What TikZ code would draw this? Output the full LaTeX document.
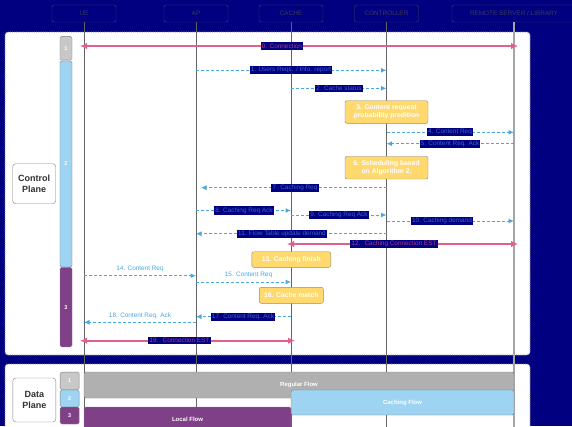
\documentclass[tikz,border=0pt]{standalone}
\usepackage{fontspec}
\setmainfont{Liberation Sans}
\usetikzlibrary{arrows.meta}

\definecolor{navybg}{RGB}{0,0,128}
\definecolor{hdrline}{RGB}{70,70,90}
\definecolor{hdrtext}{RGB}{60,60,90}
\definecolor{lifegray}{RGB}{100,100,100}
\definecolor{remotegray}{RGB}{165,165,165}
\definecolor{msgblue}{RGB}{72,168,224}
\definecolor{msgpink}{RGB}{226,96,140}
\definecolor{labblue}{RGB}{60,100,205}
\definecolor{labpink}{RGB}{175,60,140}
\definecolor{noteyellow}{RGB}{255,217,110}
\definecolor{notebd}{RGB}{140,140,140}
\definecolor{phasegray}{RGB}{200,200,200}
\definecolor{phaseblue}{RGB}{158,211,242}
\definecolor{phasepurple}{RGB}{128,64,135}
\definecolor{phasebd}{RGB}{130,130,130}
\definecolor{flowgray}{RGB}{176,176,176}
\definecolor{darktext}{RGB}{50,50,50}
\definecolor{panelbd}{RGB}{130,130,130}

\begin{document}
\begin{tikzpicture}[x=1pt,y=-1pt,
  font=\fontsize{6.4}{7.5}\selectfont,
  hdr/.style={draw=hdrline, fill=navybg, rounded corners=2pt, minimum height=17pt,
    text=hdrtext, inner sep=0pt},
  life/.style={draw=lifegray, line width=0.8pt},
  remotelife/.style={draw=remotegray, line width=1.6pt},
  panel/.style={draw=panelbd, fill=white, rounded corners=3pt, line width=0.6pt,
    dash pattern=on 1.2pt off 1pt},
  planebox/.style={draw=panelbd, fill=white, rounded corners=3pt, text=darktext,
    font=\bfseries\fontsize{9}{10.5}\selectfont, align=center,
    minimum width=43pt, inner sep=0pt},
  phase/.style={draw=phasebd, rounded corners=1.5pt, text=white, inner sep=0pt,
    font=\bfseries\fontsize{5.5}{6.5}\selectfont},
  flow/.style={draw=phasebd, rounded corners=1.5pt, text=white, inner sep=0pt,
    font=\bfseries\fontsize{6}{7}\selectfont},
  bluemsg/.style={draw=msgblue, line width=1pt, dash pattern=on 3pt off 2pt,
    -{Latex[length=5.5pt,width=5pt]}},
  pinkmsg/.style={draw=msgpink, line width=2.4pt,
    {Latex[length=7pt,width=6.5pt]}-{Latex[length=7pt,width=6.5pt]}},
  lab/.style={fill=navybg, inner xsep=1.2pt, inner ysep=1.2pt, text=labblue},
  plab/.style={lab, text=labpink},
  freelab/.style={text=msgblue, inner sep=0.5pt},
  note/.style={draw=notebd, fill=noteyellow, rounded corners=2pt, text=white,
    font=\bfseries\fontsize{6.8}{8.2}\selectfont, align=center, inner sep=0pt}
]
\useasboundingbox (0,0) rectangle (572,426);
\clip (0,0) rectangle (572,426);
\fill[navybg] (0,0) rectangle (572,426);

% plane panels
\draw[panel] (5,32) rectangle (530,355);
\draw[panel] (5,364) rectangle (530,440);

% participants
\node[hdr, minimum width=64pt] (ue) at (84,13.5) {UE};
\node[hdr, minimum width=64pt] (ap) at (196,13.5) {AP};
\node[hdr, minimum width=64pt] (cache) at (291,13.5) {CACHE};
\node[hdr, minimum width=64pt] (ctrl) at (386.5,13.5) {CONTROLLER};
\node[hdr, minimum width=124pt] (remote) at (514,13.5) {REMOTE SERVER / LIBRARY};

\coordinate (floor) at (0,440);

% lifelines
\draw[life] (ue.south) -- (ue.south |- floor);
\draw[life] (ap.south) -- (ap.south |- floor);
\draw[life] (cache.south) -- (cache.south |- floor);
\draw[life] (ctrl.south) -- (ctrl.south |- floor);
\draw[remotelife] (remote.south) -- (remote.south |- floor);

% plane titles
\node[planebox, minimum height=40pt] (cplane) at (34.2,183.7) {Control\\Plane};
\node[planebox, minimum height=44pt] (dplane) at (34.3,400) {Data\\Plane};

% control plane phases
\node[phase, fill=phasegray, minimum width=12pt, minimum height=23.7pt] (cp1) at (66,48.2) {1};
\node[phase, fill=phaseblue, minimum width=12pt, minimum height=206pt] (cp2) at (66,164) {2};
\node[phase, fill=phasepurple, minimum width=12pt, minimum height=79.5pt] (cp3) at (66,307.2) {3};

% data plane phases
\node[phase, fill=phasegray, minimum width=19pt, minimum height=17.7pt] (dp1) at (69.6,380.9) {1};
\node[phase, fill=phaseblue, minimum width=19pt, minimum height=17pt] (dp2) at (69.6,398.5) {2};
\node[phase, fill=phasepurple, minimum width=19pt, minimum height=17pt] (dp3) at (69.6,415.5) {3};

% data plane flows
\node[flow, fill=flowgray, minimum width=430pt, minimum height=26pt] (fregular) at (299,385) {Regular Flow};
\node[flow, fill=phaseblue, minimum width=223pt, minimum height=25pt] (fcaching) at (402.5,402.5) {Caching Flow};
\node[flow, fill=phasepurple, minimum width=207pt, minimum height=25pt] (flocal) at (187.5,419.5) {Local Flow};

% message rows
\coordinate (r0) at (0,46);
\coordinate (r1) at (0,70.3);
\coordinate (r2) at (0,88.3);
\coordinate (r4) at (0,132.3);
\coordinate (r5) at (0,143.7);
\coordinate (r7) at (0,187.7);
\coordinate (r8) at (0,210.5);
\coordinate (r9) at (0,215);
\coordinate (r10) at (0,221);
\coordinate (r11) at (0,233.7);
\coordinate (r12) at (0,244);
\coordinate (r14) at (0,275.7);
\coordinate (r15) at (0,282);
\coordinate (r17) at (0,316.7);
\coordinate (r18) at (0,322.3);
\coordinate (r19) at (0,340.7);

% messages
\draw[pinkmsg] ([xshift=-4pt]ue.south |- r0) -- ([xshift=4pt]remote.south |- r0);
\draw[bluemsg] (ap.south |- r1) -- (ctrl.south |- r1);
\draw[bluemsg] (cache.south |- r2) -- (ctrl.south |- r2);
\draw[bluemsg] (ctrl.south |- r4) -- (remote.south |- r4);
\draw[bluemsg] (remote.south |- r5) -- (ctrl.south |- r5);
\draw[bluemsg] (ctrl.south |- r7) -- ([xshift=5pt]ap.south |- r7);
\draw[bluemsg] (ap.south |- r8) -- (cache.south |- r8);
\draw[bluemsg] (cache.south |- r9) -- (ctrl.south |- r9);
\draw[bluemsg] (ctrl.south |- r10) -- (remote.south |- r10);
\draw[bluemsg] (ctrl.south |- r11) -- (ap.south |- r11);
\draw[pinkmsg] ([xshift=-4pt]cache.south |- r12) -- ([xshift=4pt]remote.south |- r12);
\draw[bluemsg] (ue.south |- r14) -- (ap.south |- r14);
\draw[bluemsg] (ap.south |- r15) -- (cache.south |- r15);
\draw[bluemsg] (cache.south |- r17) -- (ap.south |- r17);
\draw[bluemsg] (ap.south |- r18) -- (ue.south |- r18);
\draw[pinkmsg] ([xshift=-4pt]ue.south |- r19) -- ([xshift=4pt]cache.south |- r19);

% message labels
\node[plab] (l0) at (282,46) {0. Connection};
\node[lab] (l1) at (291,70.3) {1. Users Reqs. / Info. report};
\node[lab] (l2) at (339,88.3) {2. Cache status};
\node[lab] (l4) at (450,132.3) {4. Content Req};
\node[lab] (l5) at (450,143.7) {5. Content Req. Ack};
\node[lab] (l7) at (295,187.7) {7. Caching Req};
\node[lab] (l8) at (244,210.5) {8. Caching Req Ack};
\node[lab] (l9) at (339,215) {9. Caching Req Ack};
\node[lab] (l10) at (442,221) {10. Caching demand};
\node[lab] (l11) at (282,233.7) {11. Flow Table update demand};
\node[plab] (l12) at (394,244) {12.~ Caching Connection EST};
\node[freelab] (l14) at (140,269) {14. Content Req};
\node[freelab] (l15) at (248.5,275) {15. Content Req};
\node[lab] (l17) at (243,316.7) {17. Content Req. Ack};
\node[freelab] (l18) at (140,315.8) {18. Content Req. Ack};
\node[plab] (l19) at (179.5,340.7) {19.~ Connection EST};

% processing notes
\node[note, minimum width=83pt, minimum height=22.6pt] (n3) at (386.5,112) {3. Content request\\probability predition};
\node[note, minimum width=83pt, minimum height=22.7pt] (n6) at (386.5,167.6) {6. Scheduling based\\on Algorithm 2.};
\node[note, minimum width=79pt, minimum height=15.6pt] (n13) at (291.3,259.5) {13. Caching finish};
\node[note, minimum width=64pt, minimum height=16pt] (n16) at (291.3,295.3) {16. Cache match};
\end{tikzpicture}
\end{document}
